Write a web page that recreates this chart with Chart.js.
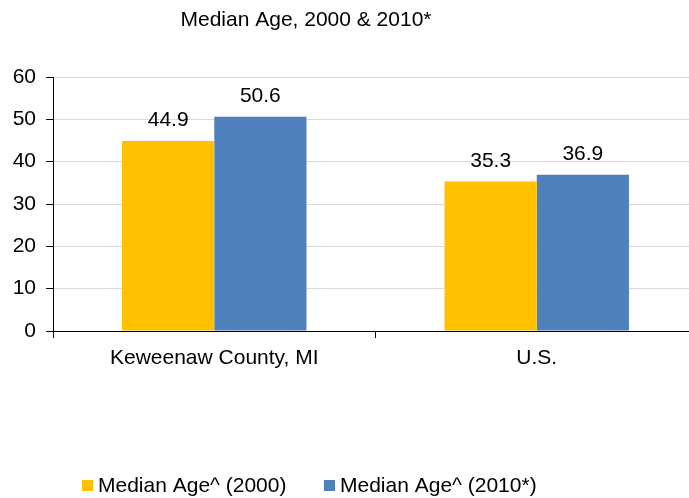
<!DOCTYPE html>
<html lang="en">
<head>
    <meta charset="UTF-8">
    <title>Median Age, 2000 & 2010*</title>
    <style>
        html, body { margin: 0; padding: 0; background: #fff; overflow: hidden; }
        /* the plot runs a little past the right edge of the window, as in the source */
        #wrap { width: 698px; height: 498px; position: relative; }
    </style>
</head>
<body>
    <div id="wrap"><canvas id="ageChart"></canvas></div>

    <script src="https://cdn.jsdelivr.net/npm/chart.js"></script>
    <script>
        // chart data
        const chartTitle = 'Median Age, 2000 & 2010*';
        const areas = ['Keweenaw County, MI', 'U.S.'];
        const seriesNames = ['Median Age^ (2000)', 'Median Age^ (2010*)'];
        const age2000 = [44.9, 35.3];
        const age2010 = [50.6, 36.9];
        const yTicks = [0, 10, 20, 30, 40, 50, 60];

        const font = 'Liberation Sans, Arial, sans-serif';

        // draws the title, the value over each bar and the legend
        const labelsPlugin = {
            id: 'labels',
            afterDatasetsDraw(chart) {
                const ctx = chart.ctx;
                ctx.save();
                ctx.fillStyle = '#000';
                ctx.textAlign = 'center';
                ctx.textBaseline = 'middle';
                ctx.font = '21px ' + font;
                ctx.fillText(chartTitle, 306, 20);

                ctx.textBaseline = 'bottom';
                chart.data.datasets.forEach((ds, i) => {
                    chart.getDatasetMeta(i).data.forEach((bar, j) => {
                        ctx.fillText(ds.data[j].toFixed(1), bar.x, bar.y - 10);
                    });
                });

                // legend
                ctx.textAlign = 'left';
                ctx.textBaseline = 'middle';
                const legendX = [82, 324];
                const legendY = 486;
                chart.data.datasets.forEach((ds, i) => {
                    ctx.fillStyle = ds.backgroundColor;
                    ctx.fillRect(legendX[i], legendY - 6, 11, 11);
                    ctx.fillStyle = '#000';
                    ctx.fillText(ds.label, legendX[i] + 16, legendY);
                });
                ctx.restore();
            }
        };

        new Chart(document.getElementById('ageChart'), {
            type: 'bar',
            data: {
                labels: areas,
                datasets: [
                    { label: seriesNames[0], data: age2000, backgroundColor: '#FFC000' },
                    { label: seriesNames[1], data: age2010, backgroundColor: '#4F81BD' }
                ]
            },
            options: {
                responsive: true,
                maintainAspectRatio: false,
                animation: false,
                categoryPercentage: 0.572,
                barPercentage: 1.0,
                layout: { padding: { top: 77, right: 0, left: 0, bottom: 0 } },
                plugins: {
                    title: { display: false },
                    tooltip: { enabled: false },
                    legend: { display: false }
                },
                scales: {
                    x: {
                        grid: {
                            drawOnChartArea: false,
                            drawTicks: true,
                            tickLength: 7,
                            tickColor: '#000',
                            offset: true
                        },
                        border: { color: '#000', width: 1 },
                        ticks: {
                            font: { family: font, size: 21 },
                            color: '#000',
                            padding: 8
                        },
                        afterFit(scale) { scale.height = 167; }
                    },
                    y: {
                        min: 0,
                        max: 60,
                        afterBuildTicks(scale) { scale.ticks = yTicks.map(v => ({ value: v })); },
                        grid: {
                            color: '#d9d9d9',
                            tickColor: '#000',
                            tickLength: 7
                        },
                        border: { color: '#000', width: 1 },
                        ticks: {
                            font: { family: font, size: 21 },
                            color: '#000',
                            padding: 10
                        },
                        afterFit(scale) { scale.width = 53; }
                    }
                }
            },
            plugins: [labelsPlugin]
        });
    </script>
</body>
</html>
